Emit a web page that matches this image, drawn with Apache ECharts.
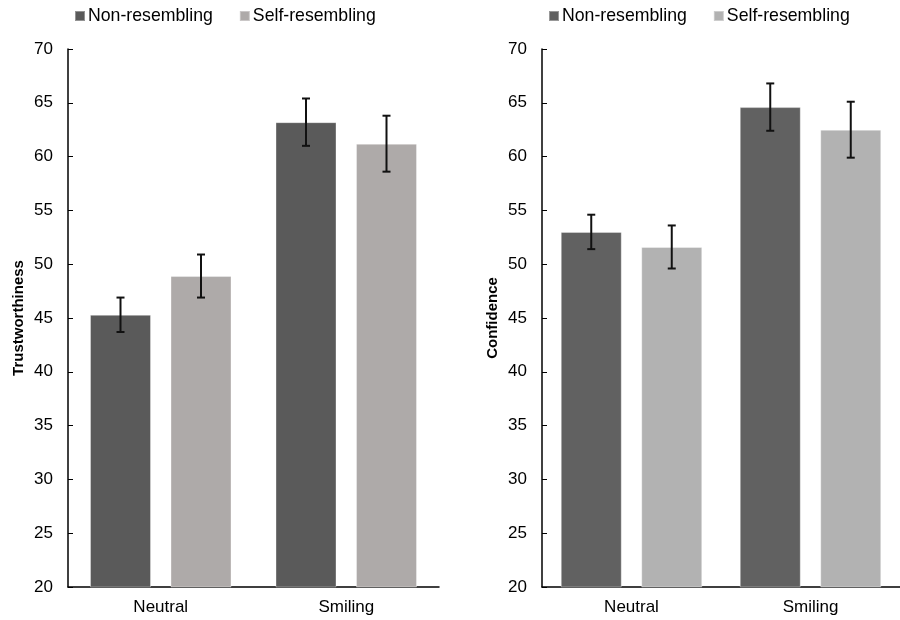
<!DOCTYPE html>
<html><head><meta charset="utf-8">
<script src="https://cdn.jsdelivr.net/npm/echarts@6/dist/echarts.min.js"></script>
<style>html,body{margin:0;padding:0;background:#fff}#c{width:900px;height:620px}</style>
</head><body><div id="c"></div>
<script>
const categories = ['Neutral', 'Smiling'];
const seriesNames = ['Non-resembling', 'Self-resembling'];
const yTicks = [20, 70, 5];
// Trustworthiness panel
const trustNon = [45.3, 63.2];
const trustNonErr = [1.6, 2.2];
const trustSelf = [48.9, 61.2];
const trustSelfErr = [2.0, 2.6];
// Confidence panel
const confNon = [53.0, 64.6];
const confNonErr = [1.6, 2.2];
const confSelf = [51.6, 62.5];
const confSelfErr = [2.0, 2.6];

const FONT = 'Liberation Sans, Arial, sans-serif';
const BAR_W = 61, BAR_GAP = 19.5;
const leftColors = ['#5a5a5a', '#aeaaa9'];
const rightColors = ['#616161', '#b2b2b2'];

const chart = echarts.init(document.getElementById('c'));

function errSeries(gi, vals, errs, sign) {
  return {
    type: 'custom', xAxisIndex: gi, yAxisIndex: gi, z: 10, silent: true,
    data: vals.map((v, i) => [i, v - errs[i], v + errs[i]]),
    renderItem: function (params, api) {
      const off = sign * (BAR_W + BAR_GAP) / 2;
      const lo = api.coord([api.value(0), api.value(1)]);
      const hi = api.coord([api.value(0), api.value(2)]);
      const x = lo[0] + off, cap = 4;
      const st = { stroke: '#111', lineWidth: 2 };
      return { type: 'group', children: [
        { type: 'line', shape: { x1: x, y1: lo[1], x2: x, y2: hi[1] }, style: st },
        { type: 'line', shape: { x1: x - cap, y1: lo[1], x2: x + cap, y2: lo[1] }, style: st },
        { type: 'line', shape: { x1: x - cap, y1: hi[1], x2: x + cap, y2: hi[1] }, style: st }
      ]};
    }
  };
}

function xAx(gi) {
  return { type: 'category', gridIndex: gi, data: categories,
    axisLine: { lineStyle: { color: '#000', width: 1.5 } }, axisTick: { show: false },
    axisLabel: { color: '#000', fontSize: 17, fontFamily: FONT, margin: 12 } };
}
function yAx(gi, name) {
  return { type: 'value', gridIndex: gi, min: yTicks[0], max: yTicks[1], interval: yTicks[2],
    name: name, nameLocation: 'middle', nameGap: 42, nameRotate: 90,
    nameTextStyle: { color: '#000', fontSize: 15, fontWeight: 'bold', fontFamily: FONT },
    axisLine: { show: true, lineStyle: { color: '#000', width: 1.5 } },
    axisTick: { show: true, inside: true, length: 5, lineStyle: { color: '#000' } },
    splitLine: { show: false },
    axisLabel: { color: '#000', fontSize: 17, fontFamily: FONT, margin: 15 } };
}
function bar(gi, name, data, color) {
  return { type: 'bar', name: name, xAxisIndex: gi, yAxisIndex: gi, data: data,
    barWidth: BAR_W, barGap: (BAR_GAP / BAR_W * 100) + '%',
    itemStyle: { color: color, borderColor: 'rgba(255,255,255,0.35)', borderWidth: 1 } };
}
function legend(left, colors) {
  return { top: 2, left: left, itemWidth: 10, itemHeight: 10, itemGap: 26, icon: 'rect',
    textStyle: { color: '#000', fontSize: 17.7, fontFamily: FONT, padding: [0, 0, 0, -2] },
    data: seriesNames.map((n, i) => ({ name: n, itemStyle: { color: colors[i] } })) };
}

chart.setOption({
  animation: false,
  legend: [legend(69, leftColors), legend(543, rightColors)],
  grid: [
    { left: 68, top: 49, width: 371, height: 538 },
    { left: 542, top: 49, width: 371, height: 538 }
  ],
  xAxis: [xAx(0), xAx(1)],
  yAxis: [yAx(0, 'Trustworthiness'), yAx(1, 'Confidence')],
  series: [
    bar(0, seriesNames[0], trustNon, leftColors[0]),
    bar(0, seriesNames[1], trustSelf, leftColors[1]),
    bar(1, seriesNames[0], confNon, rightColors[0]),
    bar(1, seriesNames[1], confSelf, rightColors[1]),
    errSeries(0, trustNon, trustNonErr, -1),
    errSeries(0, trustSelf, trustSelfErr, 1),
    errSeries(1, confNon, confNonErr, -1),
    errSeries(1, confSelf, confSelfErr, 1)
  ]
});
</script></body></html>
